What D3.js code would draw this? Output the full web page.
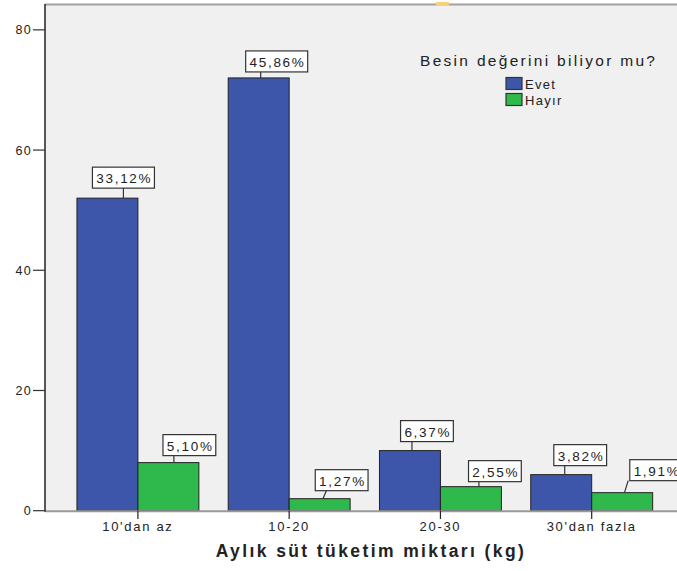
<!DOCTYPE html>
<html>
<head>
<meta charset="utf-8">
<script src="https://d3js.org/d3.v7.min.js"></script>
<style>
  body { margin: 0; background: #fff; }
  text { font-family: "Liberation Sans", Arial, sans-serif; fill: #222; }
</style>
</head>
<body>
<svg id="chart"></svg>
<script>
// chart data (counts)
var categories = ["10'dan az", "10-20", "20-30", "30'dan fazla"];
var series = ["Evet", "Hayır"];
var evet = [52, 72, 10, 6];
var hayir = [8, 2, 4, 3];
var yTicks = [0, 20, 40, 60, 80];
var colors = ["#3d56a9", "#2fb84b"];

// label box nudges, per series then category: box dx, connector dx at bar / at box, gap above bar
var labelNudge = [
  [[16, 16, 16, 10], [18, 2, 2, 6], [17, 2, 2, 9], [19, 3.5, 3.5, 9]],
  [[21, 5.5, 5.5, 7], [22, 3.3, 6.7, 8], [24, 8, 8, 5], [34, 2.3, 6, 12]]
];

var width = 677,
    height = 571,
    plotLeft = 45,
    plotTop = 4,
    plotBottom = 510.7;

var total = d3.sum(evet) + d3.sum(hayir);
var fmt = function (v) { return d3.format(".2f")(v / total * 100).replace(".", ",") + "%"; };

var svg = d3.select("#chart")
    .attr("width", width)
    .attr("height", height);

var y = d3.scaleLinear().domain([0, 84.3]).range([plotBottom, plotTop]);
var x0 = d3.scaleBand().domain(categories).range([47.6, 682]).paddingInner(0.194).paddingOuter(0.194);
var x1 = d3.scaleBand().domain(series).range([0, x0.bandwidth()]);

// plot background and frame
svg.append("rect")
    .attr("x", plotLeft).attr("y", plotTop)
    .attr("width", width - plotLeft).attr("height", plotBottom - plotTop)
    .attr("fill", "#f0f0f0");
svg.append("line")
    .attr("x1", plotLeft).attr("x2", width).attr("y1", plotTop + 0.5).attr("y2", plotTop + 0.5)
    .attr("stroke", "#a0a0a0").attr("stroke-width", 2.2);
svg.append("rect")
    .attr("x", 436).attr("y", 2).attr("width", 13).attr("height", 4)
    .attr("fill", "#f3d27a");

// bars
var rows = categories.map(function (c, i) {
  return [{ cat: c, s: 0, v: evet[i], i: i }, { cat: c, s: 1, v: hayir[i], i: i }];
});

var groups = svg.selectAll("g.grp")
    .data(rows)
    .enter().append("g")
    .attr("class", "grp")
    .attr("transform", function (d) { return "translate(" + x0(d[0].cat) + ",0)"; });

groups.selectAll("rect.bar")
    .data(function (d) { return d; })
    .enter().append("rect")
    .attr("class", "bar")
    .attr("x", function (d) { return x1(series[d.s]); })
    .attr("y", function (d) { return y(d.v); })
    .attr("width", x1.bandwidth())
    .attr("height", function (d) { return y(0) - y(d.v); })
    .attr("fill", function (d) { return colors[d.s]; })
    .attr("stroke", "#222")
    .attr("stroke-width", 1);

// axes
svg.append("line")
    .attr("x1", plotLeft).attr("x2", width).attr("y1", plotBottom + 0.5).attr("y2", plotBottom + 0.5)
    .attr("stroke", "#9a9a9a").attr("stroke-width", 2);
svg.append("line")
    .attr("x1", plotLeft).attr("x2", plotLeft).attr("y1", plotTop).attr("y2", plotBottom + 1)
    .attr("stroke", "#222").attr("stroke-width", 1.5);

var yAxis = svg.append("g");
yAxis.selectAll("line")
    .data(yTicks).enter().append("line")
    .attr("x1", 33).attr("x2", plotLeft)
    .attr("y1", function (d) { return y(d); }).attr("y2", function (d) { return y(d); })
    .attr("stroke", "#333").attr("stroke-width", 1.2);
yAxis.selectAll("text")
    .data(yTicks).enter().append("text")
    .attr("x", 32).attr("y", function (d) { return y(d) + 4.5; })
    .attr("text-anchor", "end")
    .attr("font-size", "12.5px")
    .attr("letter-spacing", "1.3px")
    .attr("fill", "#333")
    .text(function (d) { return d; });

var xAxis = svg.append("g");
xAxis.selectAll("line")
    .data(categories).enter().append("line")
    .attr("x1", function (d) { return x0(d) + x0.bandwidth() / 2; })
    .attr("x2", function (d) { return x0(d) + x0.bandwidth() / 2; })
    .attr("y1", plotBottom).attr("y2", 519)
    .attr("stroke", "#222").attr("stroke-width", 1.2);
xAxis.selectAll("text")
    .data(categories).enter().append("text")
    .attr("x", function (d) { return x0(d) + x0.bandwidth() / 2; })
    .attr("y", 531)
    .attr("text-anchor", "middle")
    .attr("font-size", "13px")
    .attr("letter-spacing", "1.7px")
    .attr("fill", "#333")
    .text(function (d) { return d; });

svg.append("text")
    .attr("x", 371).attr("y", 557)
    .attr("text-anchor", "middle")
    .attr("font-size", "17.5px")
    .attr("font-weight", "bold")
    .attr("letter-spacing", "2.4px")
    .attr("fill", "#111")
    .text("Aylık süt tüketim miktarı (kg)");

// value labels
var labels = groups.selectAll("g.lbl")
    .data(function (d) { return d; })
    .enter().append("g")
    .attr("class", "lbl");

labels.each(function (d) {
  var g = d3.select(this);
  var n = labelNudge[d.s][d.i];
  var cx = x1(series[d.s]) + x1.bandwidth() / 2;
  var barTop = y(d.v);
  var boxBottom = barTop - n[3];
  var t = g.append("text")
      .attr("font-size", "13.5px")
      .attr("letter-spacing", "1.7px")
      .attr("text-anchor", "middle")
      .attr("x", cx + n[0] + 0.85)
      .attr("y", boxBottom - 4.8)
      .text(fmt(d.v));
  var w = t.node().getComputedTextLength() + 6;
  g.insert("rect", "text")
      .attr("x", cx + n[0] - w / 2).attr("y", boxBottom - 21)
      .attr("width", w).attr("height", 21)
      .attr("fill", "#fff").attr("stroke", "#333").attr("stroke-width", 1.2);
  g.append("line")
      .attr("x1", cx + n[1]).attr("y1", barTop)
      .attr("x2", cx + n[2]).attr("y2", boxBottom)
      .attr("stroke", "#333").attr("stroke-width", 1.2);
});

// legend
var legend = svg.append("g");
legend.append("text")
    .attr("x", 420).attr("y", 66)
    .attr("font-size", "15.5px")
    .attr("letter-spacing", "2.3px")
    .attr("fill", "#333")
    .text("Besin değerini biliyor mu?");
legend.selectAll("rect")
    .data(series).enter().append("rect")
    .attr("x", 506).attr("y", function (d, i) { return 77.5 + i * 16; })
    .attr("width", 16).attr("height", 12)
    .attr("fill", function (d, i) { return colors[i]; })
    .attr("stroke", "#333").attr("stroke-width", 1.2);
legend.selectAll("text.item")
    .data(series).enter().append("text")
    .attr("class", "item")
    .attr("x", 525).attr("y", function (d, i) { return 89 + i * 16; })
    .attr("font-size", "13px")
    .attr("letter-spacing", "1.3px")
    .attr("fill", "#222")
    .text(function (d) { return d; });
</script>
</body>
</html>
